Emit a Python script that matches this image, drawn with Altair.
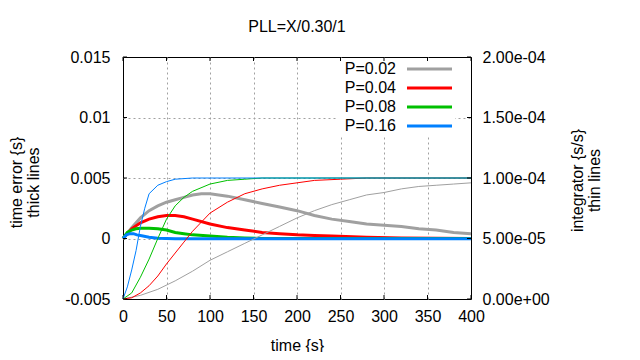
import altair as alt
import pandas as pd

series = ["P=0.02", "P=0.04", "P=0.08", "P=0.16"]
colors = ["#a0a0a0", "#ff0000", "#00c000", "#0080ff"]

# time error (thick lines, left axis)
err_t = {
    "P=0.02": [0, 10, 20, 30, 40, 50, 60, 70, 80, 90, 100, 110, 120, 140, 160, 180, 200, 220, 240, 260, 280, 300, 320, 340, 360, 380, 400],
    "P=0.04": [0, 10, 20, 30, 40, 50, 60, 70, 80, 100, 120, 140, 160, 180, 200, 220, 240, 280, 320, 400],
    "P=0.08": [0, 5, 10, 15, 20, 30, 40, 50, 60, 70, 80, 100, 120, 140, 160, 400],
    "P=0.16": [0, 4, 8, 12, 16, 20, 30, 40, 50, 60, 400],
}
err_v = {
    "P=0.02": [0, 0.0009, 0.0017, 0.0023, 0.0027, 0.0030, 0.0032, 0.0034, 0.0036, 0.0037, 0.0037, 0.0036, 0.0035, 0.0032, 0.0029, 0.0026, 0.0023, 0.0019, 0.0016, 0.0014, 0.0012, 0.0011, 0.0010, 0.0008, 0.0007, 0.0005, 0.0004],
    "P=0.04": [0, 0.0008, 0.0013, 0.0016, 0.0018, 0.0019, 0.0019, 0.0018, 0.0016, 0.0012, 0.0009, 0.0007, 0.0005, 0.0004, 0.0003, 0.00025, 0.0002, 0.0001, 0.00005, 0.0],
    "P=0.08": [0, 0.0005, 0.0007, 0.0008, 0.00085, 0.00085, 0.0008, 0.0007, 0.0005, 0.0004, 0.0003, 0.0002, 0.0001, 0.00005, 0.0, 0.0],
    "P=0.16": [0, 0.0003, 0.0004, 0.0004, 0.0003, 0.00025, 0.0001, 0.00003, 0.0, -0.00003, -0.00003],
}

# integrator (thin lines, right axis)
int_t = {
    "P=0.02": [0, 20, 40, 60, 80, 100, 120, 140, 160, 180, 200, 220, 240, 260, 280, 300, 320, 340, 360, 380, 400],
    "P=0.04": [0, 10, 20, 30, 40, 50, 60, 70, 80, 100, 120, 140, 160, 180, 200, 220, 250, 280, 400],
    "P=0.08": [0, 10, 20, 30, 40, 50, 60, 70, 80, 100, 120, 140, 160, 400],
    "P=0.16": [0, 5, 10, 15, 20, 25, 30, 40, 50, 60, 80, 400],
}
int_v = {
    "P=0.02": [0, 0.03e-4, 0.08e-4, 0.15e-4, 0.23e-4, 0.32e-4, 0.39e-4, 0.46e-4, 0.53e-4, 0.60e-4, 0.67e-4, 0.73e-4, 0.78e-4, 0.82e-4, 0.86e-4, 0.88e-4, 0.91e-4, 0.93e-4, 0.94e-4, 0.95e-4, 0.96e-4],
    "P=0.04": [0, 0.01e-4, 0.05e-4, 0.11e-4, 0.19e-4, 0.29e-4, 0.38e-4, 0.47e-4, 0.56e-4, 0.71e-4, 0.80e-4, 0.87e-4, 0.91e-4, 0.94e-4, 0.96e-4, 0.98e-4, 0.99e-4, 1.0e-4, 1.0e-4],
    "P=0.08": [0, 0.05e-4, 0.18e-4, 0.33e-4, 0.50e-4, 0.66e-4, 0.77e-4, 0.84e-4, 0.89e-4, 0.95e-4, 0.98e-4, 0.99e-4, 1.0e-4, 1.0e-4],
    "P=0.16": [0, 0.10e-4, 0.24e-4, 0.40e-4, 0.60e-4, 0.75e-4, 0.87e-4, 0.94e-4, 0.97e-4, 0.99e-4, 1.0e-4, 1.0e-4],
}

x_ticks = [0, 50, 100, 150, 200, 250, 300, 350, 400]
left_ticks = [-0.005, 0, 0.005, 0.01, 0.015]
left_labels = ["-0.005", "0", "0.005", "0.01", "0.015"]
right_ticks = [0, 0.5e-4, 1.0e-4, 1.5e-4, 2.0e-4]
right_labels = ["0.00e+00", "5.00e-05", "1.00e-04", "1.50e-04", "2.00e-04"]

err_rows = []
for s in series:
    for t, v in zip(err_t[s], err_v[s]):
        err_rows.append({"t": t, "v": v, "series": s})
int_rows = []
for s in series:
    for t, v in zip(int_t[s], int_v[s]):
        int_rows.append({"t": t, "v": v, "series": s})
err_df = pd.DataFrame(err_rows)
int_df = pd.DataFrame(int_rows)
leg_df = pd.DataFrame({"series": series})
xt_df = pd.DataFrame({"t": x_ticks})
lt_df = pd.DataFrame({"v": left_ticks})
rt_df = pd.DataFrame({"v": right_ticks})

FONT = "Liberation Sans"
W, H = 348, 242
TICK = 4
color = alt.Color("series:N", scale=alt.Scale(domain=series, range=colors), legend=None)
xenc = alt.X("t:Q", scale=alt.Scale(domain=[0, 400], nice=False),
             axis=alt.Axis(values=x_ticks, title="time {s}", grid=True, ticks=False,
                           labelPadding=9, labelFlush=False, titleY=46, titleBaseline="middle",
                           gridOpacity={"condition": {"test": "datum.value <= 0 || datum.value >= 400", "value": 0}, "value": 1}))
left_scale = alt.Scale(domain=[-0.005, 0.015], nice=False, zero=False)
right_scale = alt.Scale(domain=[0, 2e-4], nice=False, zero=False)

left_expr = "[" + ",".join("'%s'" % l for l in left_labels) + "][round((datum.value + 0.005) / 0.005)]"
right_expr = "[" + ",".join("'%s'" % l for l in right_labels) + "][round(datum.value / 0.00005)]"

thick = alt.Chart(err_df).mark_line(strokeWidth=3, strokeCap="butt").encode(
    x=xenc,
    y=alt.Y("v:Q", scale=left_scale,
            axis=alt.Axis(orient="left", values=left_ticks, labelExpr=left_expr, grid=True,
                          ticks=False, labelPadding=13, labelFlush=False,
                          gridOpacity={"condition": {"test": "datum.value < -0.004 || datum.value > 0.014", "value": 0}, "value": 1},
                          title=["time error {s}", "thick lines"], titleAngle=270,
                          titleX=-107, titleY=125, titleAlign="center", titleBaseline="middle")),
    color=color,
    detail="series:N",
)

thin = alt.Chart(int_df).mark_line(strokeWidth=1).encode(
    x=xenc,
    y=alt.Y("v:Q", scale=right_scale,
            axis=alt.Axis(orient="right", values=right_ticks, labelExpr=right_expr, grid=False,
                          ticks=False, labelPadding=11, labelFlush=False,
                          title=["integrator {s/s}", "thin lines"], titleAngle=270,
                          titleX=106, titleY=123, titleAlign="center", titleBaseline="middle")),
    color=color,
    detail="series:N",
)

legy = alt.Y("series:N", scale=alt.Scale(type="point", domain=series, range=[12, 69], padding=0), axis=None)
leg_bg = alt.Chart(leg_df).mark_rect(fill="white").encode(
    x=alt.value(215), x2=alt.value(332), y=alt.value(1), y2=alt.value(78)
)
leg_text = alt.Chart(leg_df).mark_text(align="right", baseline="middle", font=FONT, fontSize=16, color="black").encode(
    x=alt.value(273), y=legy, text="series:N"
)
leg_line = alt.Chart(leg_df).mark_rule(strokeWidth=3).encode(
    x=alt.value(284), x2=alt.value(329), y=legy, color=color
)

# inward (gnuplot-style) tick marks on all four borders
tick_bottom = alt.Chart(xt_df).mark_rule(color="black", strokeWidth=1).encode(
    x=xenc, y=alt.value(H), y2=alt.value(H - TICK))
tick_top = alt.Chart(xt_df).mark_rule(color="black", strokeWidth=1).encode(
    x=xenc, y=alt.value(0), y2=alt.value(TICK))
tick_left = alt.Chart(lt_df).mark_rule(color="black", strokeWidth=1).encode(
    y=alt.Y("v:Q", scale=left_scale, axis=None), x=alt.value(0), x2=alt.value(TICK))
tick_right = alt.Chart(rt_df).mark_rule(color="black", strokeWidth=1).encode(
    y=alt.Y("v:Q", scale=right_scale, axis=None), x=alt.value(W), x2=alt.value(W - TICK))

chart = alt.layer(thick, thin, leg_bg, leg_text, leg_line,
                  tick_bottom, tick_top, tick_left, tick_right).resolve_scale(
    y="independent"
).properties(
    width=W, height=H,
    autosize=alt.AutoSizeParams(type="none"),
    padding={"left": 115, "top": 49, "right": 161, "bottom": 53},
    title=alt.Title("PLL=X/0.30/1", font=FONT, fontSize=16, fontWeight="normal", color="black", offset=14),
).configure_view(
    stroke="black", strokeWidth=1
).configure_axis(
    labelFont=FONT, labelFontSize=16, labelColor="black",
    titleFont=FONT, titleFontSize=16, titleFontWeight="normal", titleColor="black", titleLineHeight=17,
    gridColor="#a0a0a0", gridDash=[2, 3], gridWidth=1, gridOpacity=1,
    domain=False,
)

chart.save("out.html", embed_options={"renderer": "svg", "actions": False})
